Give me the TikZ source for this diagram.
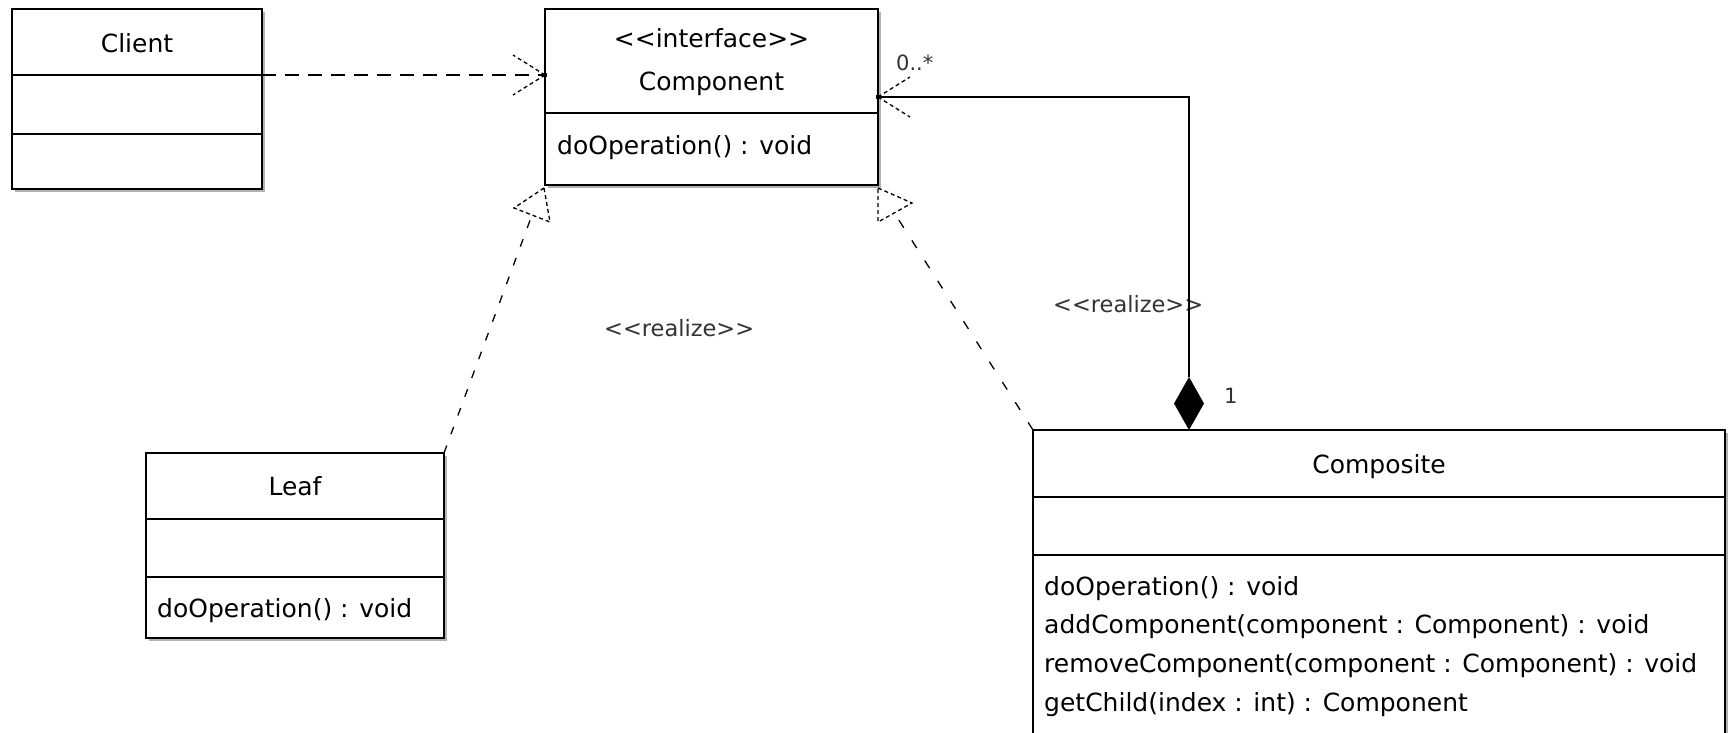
\documentclass[tikz,border=0pt]{standalone}
\usepackage{fontspec}
\setmainfont{DejaVu Sans}
\usetikzlibrary{shadows,shapes.geometric}
\newcommand\umlfont{\fontsize{25}{30}\selectfont}
\newcommand\smallumlfont{\fontsize{21}{25}\selectfont}
\newcommand\tagumlfont{\fontsize{22.5}{27}\selectfont}
\tikzset{
  classbox/.style={draw, line width=2.2pt, fill=white, inner sep=0pt, outer sep=0pt,
    drop shadow={shadow xshift=2.5pt, shadow yshift=-2.5pt, opacity=0.3, fill=black}},
  divider/.style={line width=2.2pt},
  classname/.style={font=\umlfont, anchor=base, inner sep=0pt},
  member/.style={font=\umlfont, anchor=base west, inner sep=0pt},
  tag/.style={font=\smallumlfont, text=black!80, anchor=base west, inner sep=0pt},
  stereotag/.style={tag, font=\tagumlfont},
  deplink/.style={line width=1.3pt, dash pattern=on 14pt off 9pt},
  reallink/.style={line width=1.3pt, dash pattern=on 8pt off 12pt},
  headline/.style={line width=1.3pt, dash pattern=on 4pt off 3pt},
  assoc/.style={line width=1.3pt},
  tipdot/.style={fill=black, minimum size=4pt, inner sep=0pt, outer sep=0pt},
  compdiamond/.style={diamond, fill=black, minimum width=30pt, minimum height=53pt, inner sep=0pt, outer sep=0pt},
}
\begin{document}
\begin{tikzpicture}[x=1pt, y=-1pt]
\useasboundingbox (0,0) rectangle (1733,732);
\clip (0,0) rectangle (1733,732);
\fill[white] (0,0) rectangle (1733,732);

% class boxes
\node[classbox, minimum width=250pt, minimum height=180pt] (client) at (137,99) {};
\node[classbox, minimum width=333pt, minimum height=176pt] (component) at (711.5,97) {};
\node[classbox, minimum width=298pt, minimum height=185pt] (leaf) at (295,545.5) {};
\node[classbox, minimum width=692pt, minimum height=312pt] (composite) at (1379,586) {};

% compartments
\draw[divider] (client.west |- 0,75) -- (client.east |- 0,75);
\draw[divider] (client.west |- 0,134) -- (client.east |- 0,134);
\draw[divider] (component.west |- 0,113) -- (component.east |- 0,113);
\draw[divider] (leaf.west |- 0,519) -- (leaf.east |- 0,519);
\draw[divider] (leaf.west |- 0,577) -- (leaf.east |- 0,577);
\draw[divider] (composite.west |- 0,497) -- (composite.east |- 0,497);
\draw[divider] (composite.west |- 0,555) -- (composite.east |- 0,555);

% class texts
\node[classname] (clientname) at (137,52) {Client};
\node[classname] (ifacetag) at (711.5,47) {<{}<interface>{}>};
\node[classname] (componentname) at (711.5,90) {Component};
\node[member] (componentop) at (557,154) {doOperation() : void};
\node[classname] (leafname) at (295,495) {Leaf};
\node[member] (leafop) at (157,617) {doOperation() : void};
\node[classname] (compositename) at (1379,473) {Composite};
\node[member] (cop1) at (1044,595) {doOperation() : void};
\node[member] (cop2) at (1044,633) {addComponent(component : Component) : void};
\node[member] (cop3) at (1044,672) {removeComponent(component : Component) : void};
\node[member] (cop4) at (1044,711) {getChild(index : int) : Component};

% dependency Client -> Component
\coordinate (depstart) at (client.east |- 0,75);
\coordinate (deptip) at (component.west |- 0,75);
\draw[deplink] (depstart) -- (deptip);
\draw[headline] (deptip) -- ++(-32,-20) (deptip) -- ++(-32,20);
\node[tipdot] (deptipdot) at (deptip) {};

% realization Leaf -> Component
\coordinate (lefttri) at ([shift={(-1,3)}]component.south west);
\coordinate (lefttribase) at ([shift={(-13,30)}]component.south west);
\draw[reallink] (leaf.north east) -- (lefttribase);
\draw[headline] (lefttri) -- ++(-30,20) -- ++(36,14) -- cycle;
\node[stereotag] (realizeleft) at (604,336) {<{}<realize>{}>};

% realization Composite -> Component
\coordinate (righttri) at ([shift={(0,3)}]component.south east);
\coordinate (righttribase) at ([shift={(17,29)}]component.south east);
\draw[reallink, dash pattern=on 9pt off 15pt] (composite.north west) -- (righttribase);
\draw[headline] (righttri) -- ++(34,15) -- ++(-34,19) -- cycle;
\node[stereotag] (realizeright) at (1053,312) {<{}<realize>{}>};

% composition Composite <>-> Component
\node[compdiamond] (diamond) at (1189,403.5) {};
\coordinate (assoctip) at (component.east |- 0,97);
\draw[assoc] (diamond.north) |- (assoctip);
\draw[headline] (assoctip) -- ++(32,-20) (assoctip) -- ++(32,20);
\node[tipdot] (assoctipdot) at (assoctip) {};
\node[tag] (manyend) at (896,70) {0..*};
\node[tag] (oneend) at (1224,403) {1};
\end{tikzpicture}
\end{document}
